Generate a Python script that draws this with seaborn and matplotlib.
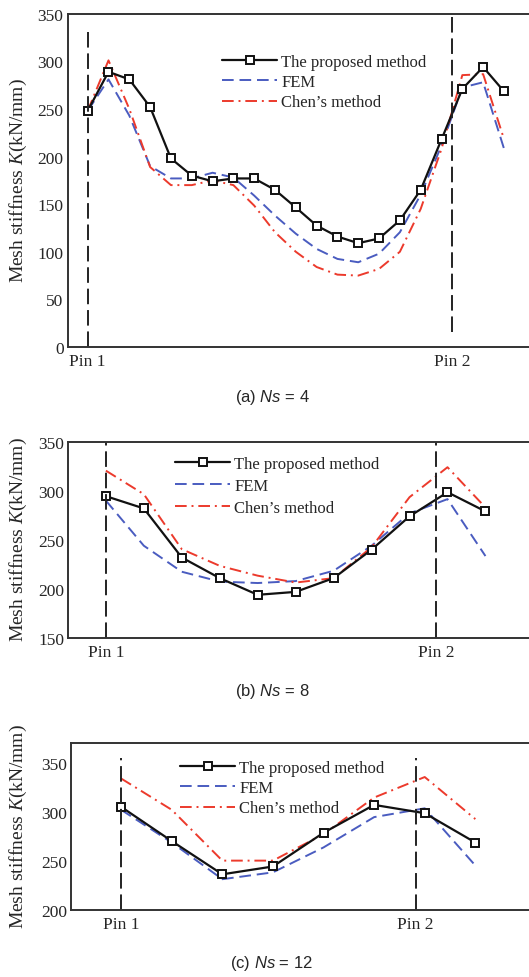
import matplotlib
matplotlib.use('Agg')
import matplotlib.pyplot as plt
import seaborn as sns

# ---- panel (a): Ns = 4 ----
a_pos = list(range(21))
a_proposed = [248, 289, 281, 252, 198, 180, 174, 177, 177, 165, 146.5,
              127.5, 116, 109, 114, 133, 165, 218, 271, 294, 268.5]
a_fem = [248, 281, 243, 190, 177, 177, 183, 178, 159, 138, 119,
         103, 92.5, 89, 98, 120.5, 160, 211.5, 272.5, 278, 208.5]
a_chen = [248, 301, 250, 189, 170, 170, 175, 170, 148.5, 120.5, 100,
          84, 76, 75, 82, 100, 145, 208, 285.5, 286.5, 218.5]
a_pins = [0, 17.5]

# ---- panel (b): Ns = 8 ----
b_pos = list(range(11))
b_proposed = [294.5, 282, 232, 211, 194, 197, 211, 240, 274, 298.5, 279]
b_fem = [290, 244, 217.5, 207.5, 206, 208, 218.5, 244, 277, 291.5, 233.5]
b_chen = [320.5, 296.5, 240.5, 223.5, 213.5, 206.5, 211, 242.5, 293.5, 324, 283]
b_pins = [0, 8.7]

# ---- panel (c): Ns = 12 ----
c_pos = list(range(8))
c_proposed = [305.5, 270.5, 236.5, 244.5, 279, 307.5, 299, 269]
c_fem = [302.5, 269, 231.5, 238.5, 264, 295, 304, 245.5]
c_chen = [334.5, 302.5, 250.5, 250.5, 277.5, 315, 336, 293]
c_pins = [0, 5.82]

pin_labels = ['Pin 1', 'Pin 2']
series_labels = ['The proposed method', 'FEM', "Chen\u2019s method"]

sns.set_style('ticks')
plt.rcParams['font.family'] = ['Liberation Serif', 'DejaVu Serif']
plt.rcParams['mathtext.fontset'] = 'custom'
plt.rcParams['mathtext.it'] = 'Liberation Serif:italic'
plt.rcParams['mathtext.rm'] = 'Liberation Serif'
plt.rcParams['mathtext.sf'] = 'Liberation Sans:italic'

W, H = 529, 978
fig = plt.figure(figsize=(W / 100, H / 100), dpi=100)

blue = '#4a5cc0'
red = '#ec3a2c'


def px_axes(left, top, bottom, right=531):
    return fig.add_axes([left / W, 1 - bottom / H, (right - left) / W, (bottom - top) / H])


def draw_panel(ax, pos, prop, fem, chen, pins, pin_spans, ylim, yticks, xlim,
               leg_xy, caption, cap_y, ylab_y, spacing=0.25):
    sns.lineplot(x=pos, y=fem, ax=ax, color=blue, lw=1.4,
                 linestyle=(0, (6, 3)), label=series_labels[1])
    sns.lineplot(x=pos, y=chen, ax=ax, color=red, lw=1.4,
                 linestyle=(0, (6, 2.5, 1, 2.5)), label=series_labels[2])
    sns.lineplot(x=pos, y=prop, ax=ax, color='#111111', lw=1.6, marker='s',
                 markersize=5.5, markerfacecolor='white', markeredgecolor='#111111',
                 markeredgewidth=1.4, label=series_labels[0])
    for p, (y0, y1) in zip(pins, pin_spans):
        ax.vlines(p, y0, y1, colors='#222222', lw=1.4, linestyles=(0, (8, 3)))
    ax.set_xlim(xlim)
    ax.set_ylim(ylim)
    ax.set_yticks(yticks)
    ax.set_xticks(pins)
    ax.set_xticklabels(pin_labels)
    ax.tick_params(length=0, labelsize=12.5, pad=3)
    ax.tick_params(axis='x', pad=4)
    for s in ['left', 'bottom', 'top']:
        ax.spines[s].set_linewidth(1.4)
        ax.spines[s].set_color('#333333')
    ax.spines['right'].set_visible(False)
    ax.set_ylabel('Mesh stiffness $K$(kN/mm)', fontsize=14)
    ax.yaxis.set_label_coords(29 / W, 1 - ylab_y / H, transform=fig.transFigure)
    handles, labels = ax.get_legend_handles_labels()
    order = [2, 0, 1]
    ax.legend([handles[i] for i in order], [labels[i] for i in order],
              loc='upper left', bbox_to_anchor=(leg_xy[0] / W, 1 - leg_xy[1] / H),
              bbox_transform=fig.transFigure, frameon=False, fontsize=12,
              handlelength=3.3, handletextpad=0.25, labelspacing=spacing,
              borderpad=0, borderaxespad=0)
    fig.text(272 / W, 1 - cap_y / H, caption, ha='center', va='center',
             fontsize=12, family=['Liberation Sans', 'DejaVu Sans'])


ax_a = px_axes(67.7, 14.7, 348)
draw_panel(ax_a, a_pos, a_proposed, a_fem, a_chen, a_pins,
           [(0, 334), (16, 350)], (0, 350), range(0, 351, 50), (-0.96, 21.3),
           (222, 55), '(a) $\\mathsf{Ns}$ = 4', 398, 181)

ax_b = px_axes(68.3, 442.7, 639)
draw_panel(ax_b, b_pos, b_proposed, b_fem, b_chen, b_pins,
           [(150, 350), (150, 350)], (150, 350), range(150, 351, 50), (-0.99, 11.2),
           (175, 457), '(b) $\\mathsf{Ns}$ = 8', 692, 540, spacing=0.35)

ax_c = px_axes(71, 744.3, 911)
draw_panel(ax_c, c_pos, c_proposed, c_fem, c_chen, c_pins,
           [(200, 355), (200, 355)], (200, 370.5), range(200, 351, 50), (-0.99, 8.1),
           (180, 761), '(c) $\\mathsf{Ns}$ = 12', 964, 827)

fig.savefig('out.png', dpi=100)
plt.close(fig)
